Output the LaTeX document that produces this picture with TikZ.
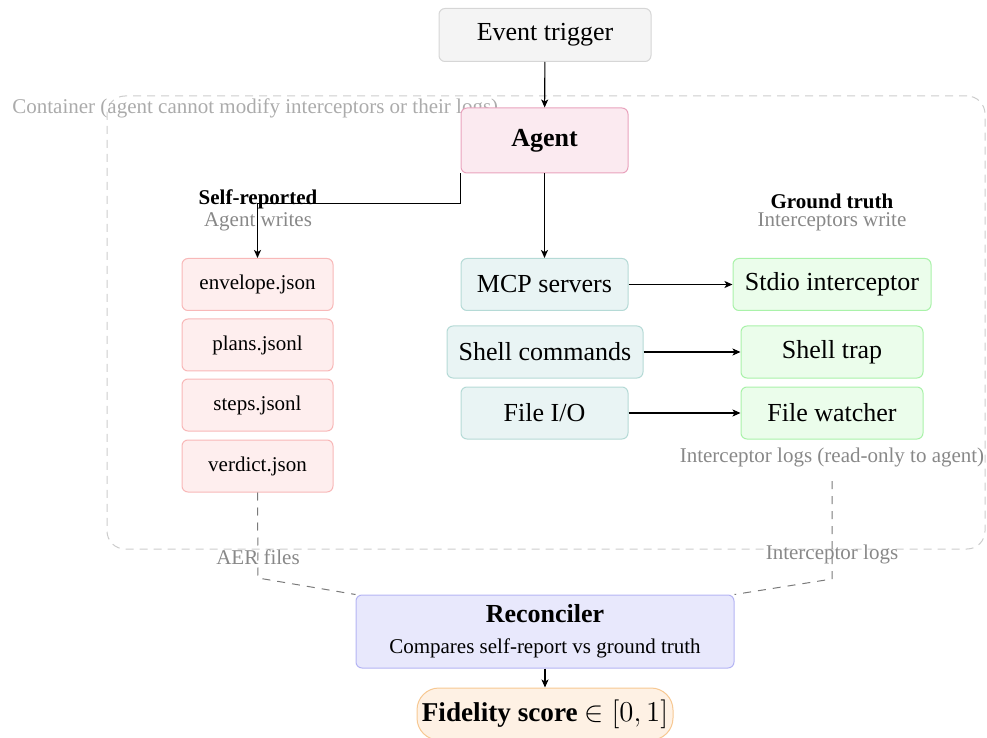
\documentclass[tikz,border=0pt]{standalone}
\usepackage{fontspec}
\setmainfont{Liberation Serif}
\usetikzlibrary{arrows.meta}
\definecolor{trigfill}{HTML}{F4F4F4}\definecolor{trigdraw}{HTML}{D6D6D6}
\definecolor{agfill}{HTML}{FBEAF0}\definecolor{agdraw}{HTML}{E9A3BD}
\definecolor{jsfill}{HTML}{FEEEEE}\definecolor{jsdraw}{HTML}{F8B8B8}
\definecolor{srcfill}{HTML}{E9F4F4}\definecolor{srcdraw}{HTML}{B5DAD6}
\definecolor{icfill}{HTML}{EBFDEB}\definecolor{icdraw}{HTML}{A9F2A9}
\definecolor{rcfill}{HTML}{E8E8FC}\definecolor{rcdraw}{HTML}{B4B4F4}
\definecolor{fsfill}{HTML}{FEF1E4}\definecolor{fsdraw}{HTML}{F7C892}
\definecolor{contdraw}{HTML}{CCCCCC}
\definecolor{greytext}{HTML}{888888}
\definecolor{lighttext}{HTML}{ABABAB}
\definecolor{dconncol}{HTML}{7A7A7A}
\newcommand{\bigsize}{\fontsize{13}{15.6}\selectfont}
\newcommand{\fidsize}{\fontsize{13.6}{16}\selectfont}
\newcommand{\smallsize}{\fontsize{10.5}{12.6}\selectfont}
\tikzset{
  box/.style={draw, rounded corners=3pt, line width=0.5pt, inner sep=0pt, align=center},
  bigbox/.style={box, font=\bigsize},
  jsbox/.style={box, fill=jsfill, draw=jsdraw, font=\smallsize, minimum width=75.5pt, minimum height=26pt},
  srcbox/.style={bigbox, fill=srcfill, draw=srcdraw, minimum height=26pt},
  icbox/.style={bigbox, fill=icfill, draw=icdraw, minimum height=26pt},
  arr/.style={draw=black, line width=0.55pt, -{Stealth[length=4pt,width=3.5pt,inset=1pt]}},
  dconn/.style={draw=dconncol, line width=0.5pt, dash pattern=on 4pt off 3.5pt},
  gtext/.style={text=greytext, font=\smallsize, inner sep=0pt},
  htext/.style={font=\smallsize\bfseries, inner sep=0pt},
}
\begin{document}
\begin{tikzpicture}[x=0.5pt,y=-0.5pt]
\useasboundingbox (0,0) rectangle (987,738);
% container
\node[draw=contdraw, line width=0.5pt, dash pattern=on 4pt off 3pt, rounded corners=9pt,
      minimum width=439pt, minimum height=226.5pt, inner sep=0pt] (container) at (546,322.5) {};
\node[text=lighttext, font=\smallsize, inner sep=0pt, anchor=west] (contlabel) at (12,108)
  {Container (agent cannot modify interceptors or their logs)};
% top
\node[bigbox, fill=trigfill, draw=trigdraw, minimum width=106pt, minimum height=26.5pt] (trig) at (545,35) {Event trigger};
\node[box, fill=agfill, draw=agdraw, font=\bigsize\bfseries, minimum width=83.5pt, minimum height=32.5pt] (agent) at (544.5,140.5) {Agent};
% headings
\node[htext] (selfh) at (258,199) {Self-reported};
\node[gtext] (selfs) at (258,222) {Agent writes};
\node[htext] (groundh) at (832,201) {Ground truth};
\node[gtext] (grounds) at (832,222) {Interceptors write};
% json files
\node[jsbox] (env) at (257.5,284.5) {envelope.json};
\node[jsbox] (plans) at (257.5,345) {plans.jsonl};
\node[jsbox] (steps) at (257.5,405) {steps.jsonl};
\node[jsbox] (verdict) at (257.5,466) {verdict.json};
% sources
\node[srcbox, minimum width=83.5pt] (mcp) at (544.5,284.5) {MCP servers};
\node[srcbox, minimum width=98pt] (shell) at (545,352) {Shell commands};
\node[srcbox, minimum width=83.5pt] (fileio) at (544.5,413) {File I/O};
% interceptors
\node[icbox, minimum width=99pt] (stdio) at (832,284.5) {Stdio interceptor};
\node[icbox, minimum width=91pt] (trap) at (832,352) {Shell trap};
\node[icbox, minimum width=91pt] (watch) at (832,413) {File watcher};
\node[gtext] (logsnote) at (832,457) {Interceptor logs (read-only to agent)};
% reconciler
\node[box, fill=rcfill, draw=rcdraw, minimum width=189pt, minimum height=36.5pt] (recon) at (545,631.5) {};
\node[font=\bigsize\bfseries, inner sep=0pt] (recont) at (545,614) {Reconciler};
\node[font=\smallsize, inner sep=0pt] (recons) at (545,648) {Compares self-report vs ground truth};
\node[box, fill=fsfill, draw=fsdraw, rounded corners=11pt, font=\fidsize, minimum width=128pt, minimum height=26pt] (fid) at (545,714) {\textbf{Fidelity score} $\in[0,1]$};
% connectors
\draw[arr] (trig) -- (agent);
\draw[arr] (agent.south west) -- ++(0,30) -| (env.north);
\draw[arr] (agent) -- (mcp);
\draw[arr] (mcp) -- (stdio);
\draw[arr] (shell) -- (trap);
\draw[arr] (fileio) -- (watch);
\draw[arr] (recon) -- (fid);
% dashed feeds
\coordinate (lbend) at (258,578);
\coordinate (rstart) at (832,481);
\coordinate (rbend) at (832,579);
\draw[dconn] (verdict.south) -- (lbend) -- (recon.north west);
\draw[dconn] (rstart) -- (rbend) -- (recon.north east);
\node[gtext] (aer) at (258,557) {AER files};
\node[gtext] (ilogs) at (832,554) {Interceptor logs};
\end{tikzpicture}
\end{document}
